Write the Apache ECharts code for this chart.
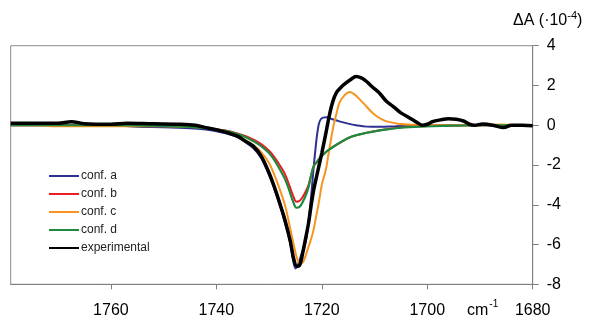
<!DOCTYPE html>
<html><head><meta charset="utf-8">
<script src="https://cdn.jsdelivr.net/npm/echarts@6/dist/echarts.min.js"></script>
<style>html,body{margin:0;padding:0;background:#fff}#c{width:594px;height:321px}</style>
</head><body><div id="c"></div>
<script>
var FONT = '"Liberation Sans", Arial, sans-serif';
var xTicks = [1680, 1700, 1720, 1740, 1760];
var yTicks = [-8, -6, -4, -2, 0, 2, 4];
var seriesNames = ['conf. a', 'conf. b', 'conf. c', 'conf. d', 'experimental'];

var expWn = [1779,1770,1767.5,1765,1760,1757,1752,1747,1744,1742,1740,1738,1736,1734.5,1733,1731.5,1730,1729,1728,1727,1726,1725.3,1724.7,1724.2,1723.6,1723,1722.5,1722,1721.5,1721,1720.5,1720,1719.3,1718.6,1717.9,1717.2,1716.4,1715.7,1714.5,1713.5,1712.5,1711.5,1710.5,1709,1707.8,1706.5,1705,1703.5,1702,1701,1700,1699,1697.5,1696,1694.5,1693,1692,1691,1689.5,1687.5,1685.5,1684,1682,1680];
var expVal = [0.1,0.1,0.18,0.08,0.05,0.1,0.07,0.05,0.0,-0.12,-0.22,-0.37,-0.55,-0.8,-1.05,-1.55,-2.4,-3.1,-3.9,-4.75,-5.8,-6.75,-7.1,-7.05,-6.4,-5.6,-4.9,-4.0,-3.2,-2.6,-2.0,-1.4,-0.5,0.45,1.2,1.65,1.9,2.07,2.3,2.45,2.38,2.2,1.95,1.6,1.22,0.95,0.62,0.39,0.15,0.0,0.05,0.18,0.27,0.33,0.3,0.2,0.05,0.0,0.06,0.0,-0.12,0.0,0.0,-0.02];

var aWn = [1779,1760,1755,1750,1745,1742,1740,1738,1736,1734.5,1733,1731.5,1730,1729,1728,1727,1726,1725.5,1725,1724.5,1724,1723.5,1723,1722.5,1722,1721.6,1721.2,1720.8,1720.4,1719.8,1719.1,1718,1716.5,1715,1713.5,1711.5,1709,1706,1703,1700,1680];
var aVal = [0,0,-0.08,-0.1,-0.15,-0.22,-0.3,-0.42,-0.6,-0.85,-1.15,-1.65,-2.5,-3.2,-4.0,-4.9,-5.9,-6.7,-7.2,-7.0,-6.6,-6.2,-5.8,-4.8,-3.5,-2.3,-1.2,-0.3,0.2,0.38,0.4,0.3,0.18,0.08,0.0,-0.07,-0.08,-0.05,-0.02,0,0];

var bWn = [1779,1760,1750,1745,1742,1740,1738,1736,1734.4,1733,1731.5,1730,1729,1728,1727,1726.2,1725.5,1724.8,1724.2,1723.6,1723,1722.5,1721.6,1720.8,1720,1719,1717.8,1716.2,1714.7,1713,1711.5,1709.5,1707.7,1705.5,1703.4,1699,1695,1690,1680];
var bVal = [0,0,-0.03,-0.08,-0.14,-0.2,-0.28,-0.42,-0.55,-0.72,-0.95,-1.28,-1.6,-2.0,-2.45,-3.0,-3.5,-3.85,-3.8,-3.6,-3.3,-3.0,-2.1,-1.8,-1.55,-1.3,-1.08,-0.82,-0.61,-0.47,-0.38,-0.28,-0.2,-0.13,-0.08,-0.03,-0.01,0,0];

var cWn = [1779,1775,1770,1760,1750,1745,1742,1740,1738,1736,1734.5,1733,1731.5,1730,1729,1728,1727,1726.3,1725.5,1724.8,1724.2,1723.6,1723,1722.5,1722,1721.6,1721,1720.5,1720,1719.2,1718.6,1717.8,1717.2,1716.7,1715.7,1714.7,1713.8,1712.8,1711.5,1710.5,1709.6,1708.5,1707.5,1705.2,1702,1700,1690,1686,1684,1680];
var cVal = [0,0,-0.05,-0.05,-0.05,-0.08,-0.12,-0.2,-0.35,-0.52,-0.75,-1.0,-1.35,-1.9,-2.5,-3.2,-4.0,-4.8,-5.8,-6.6,-6.95,-6.9,-6.5,-6.1,-5.7,-5.3,-4.5,-3.8,-3.0,-2.2,-1.25,-0.05,0.6,1.1,1.5,1.67,1.55,1.3,0.93,0.65,0.45,0.28,0.18,0.06,0.02,0,0,0.04,0.02,0];

var dWn = [1779,1760,1750,1745,1742,1740,1738,1736,1734.4,1733,1731.5,1730,1729,1728,1727,1726.2,1725.5,1724.8,1724.2,1723.6,1723,1722.5,1721.6,1720.8,1720,1719,1717.8,1716.2,1714.7,1713,1711.5,1709.5,1707.7,1705.5,1703.4,1699,1695,1690,1680];
var dVal = [0,0,-0.03,-0.08,-0.15,-0.22,-0.3,-0.45,-0.6,-0.8,-1.05,-1.4,-1.75,-2.2,-2.7,-3.25,-3.8,-4.15,-4.1,-3.85,-3.5,-3.1,-2.1,-1.8,-1.55,-1.3,-1.08,-0.82,-0.61,-0.47,-0.38,-0.28,-0.21,-0.14,-0.1,-0.05,-0.02,0,0];

var colors = ['#2E3192', '#ED1C24', '#F7941D', '#1E8A3E', '#000000'];
var wns = [aWn, bWn, cWn, dWn, expWn];
var vals = [aVal, bVal, cVal, dVal, expVal];
var widths = [2, 2, 2, 2.2, 3.5];

function pairs(w, v) { return w.map(function (x, i) { return [x, v[i]]; }); }

var chart = echarts.init(document.getElementById('c'));
chart.setOption({
  animation: false,
  textStyle: { fontFamily: FONT },
  title: [
    { text: '{a|ΔA (·10}{s|-4}{a|)}', left: 513, top: 8, padding: 0,
      textStyle: { fontWeight: 'normal', rich: {
        a: { fontFamily: FONT, fontSize: 16, fontWeight: 'normal', color: '#000', lineHeight: 21, verticalAlign: 'bottom' },
        s: { fontFamily: FONT, fontSize: 11, fontWeight: 'normal', color: '#000', lineHeight: 21, verticalAlign: 'top', padding: [2, 0, 0, 0] } } } },
    { text: '{a|cm}{s|-1}', left: 467, top: 297, padding: 0,
      textStyle: { fontWeight: 'normal', rich: {
        a: { fontFamily: FONT, fontSize: 16, fontWeight: 'normal', color: '#000', lineHeight: 22, verticalAlign: 'bottom' },
        s: { fontFamily: FONT, fontSize: 10, fontWeight: 'normal', color: '#000', lineHeight: 22, verticalAlign: 'top', padding: [2, 0, 0, 1] } } } }
  ],
  legend: {
    orient: 'vertical', left: 48, top: 170, itemWidth: 30, itemHeight: 14, itemGap: 6, padding: 0,
    data: seriesNames,
    itemStyle: { opacity: 0 },
    textStyle: { fontFamily: FONT, fontSize: 12, color: '#222', padding: [0, 0, 0, -3] }
  },
  grid: { left: 10.7, right: 61.3, top: 45.7, bottom: 36.7, show: true, borderColor: '#8a8a8a', borderWidth: 1, backgroundColor: 'transparent', containLabel: false },
  xAxis: {
    type: 'value', inverse: true, min: 1680, max: 1779, interval: 20,
    axisLine: { onZero: false, lineStyle: { color: '#7f7f7f', width: 1 } },
    axisTick: { show: true, length: 5, customValues: xTicks, lineStyle: { color: '#7f7f7f' } },
    axisLabel: { customValues: xTicks, formatter: function (v) { return String(v); }, fontFamily: FONT, fontSize: 16, color: '#000', margin: 18 },
    splitLine: { show: false }
  },
  yAxis: {
    type: 'value', position: 'right', min: -8, max: 4, interval: 2,
    axisLine: { show: true, lineStyle: { color: '#7f7f7f', width: 1 } },
    axisTick: { show: true, length: 6, lineStyle: { color: '#7f7f7f' } },
    axisLabel: { fontFamily: FONT, fontSize: 16, color: '#000', margin: 14 },
    splitLine: { show: false }
  },
  series: seriesNames.map(function (n, i) {
    return { name: n, type: 'line', data: pairs(wns[i], vals[i]), smooth: 0.35, showSymbol: false, symbol: 'none',
      lineStyle: { color: colors[i], width: widths[i] }, itemStyle: { color: colors[i] }, z: 2 + i };
  })
});
</script></body></html>
